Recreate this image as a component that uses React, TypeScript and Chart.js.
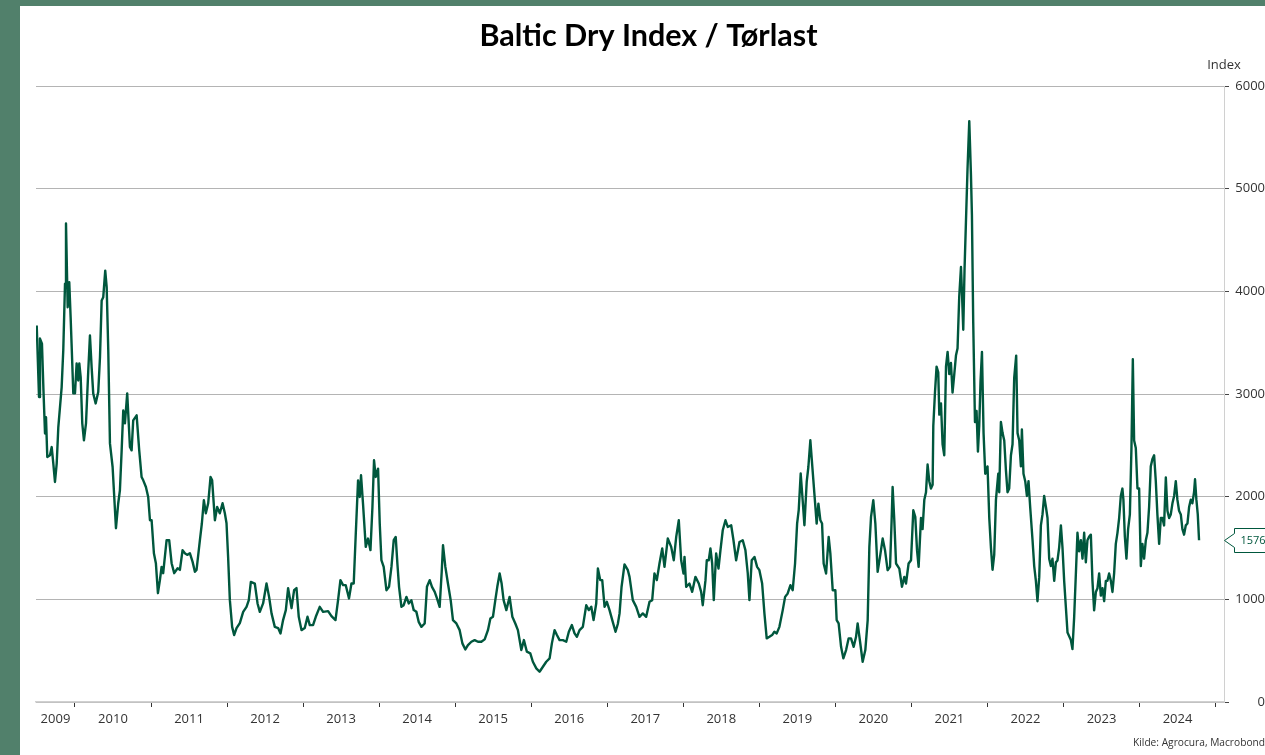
import React, { useEffect, useRef } from "react";
import { Chart, registerables } from "chart.js";

Chart.register(...registerables);

// Decimal-year positions of the readings
const dates: number[] = [
  2009.497, 2009.527, 2009.54, 2009.566, 2009.585, 2009.606, 2009.619, 2009.636, 2009.671, 2009.694,
  2009.715, 2009.737, 2009.76, 2009.781, 2009.803, 2009.825, 2009.846, 2009.869, 2009.882, 2009.904,
  2009.925, 2009.943, 2009.957, 2009.978, 2010.0, 2010.022, 2010.043, 2010.057, 2010.075, 2010.096,
  2010.118, 2010.145, 2010.175, 2010.197, 2010.219, 2010.24, 2010.272, 2010.306, 2010.329, 2010.351,
  2010.372, 2010.398, 2010.417, 2010.438, 2010.46, 2010.495, 2010.539, 2010.569, 2010.591, 2010.614,
  2010.635, 2010.657, 2010.687, 2010.723, 2010.745, 2010.766, 2010.811, 2010.845, 2010.876, 2010.898,
  2010.933, 2010.963, 2010.986, 2011.008, 2011.038, 2011.064, 2011.091, 2011.117, 2011.139, 2011.16,
  2011.205, 2011.239, 2011.271, 2011.305, 2011.35, 2011.38, 2011.415, 2011.445, 2011.476, 2011.511,
  2011.547, 2011.577, 2011.599, 2011.643, 2011.669, 2011.695, 2011.721, 2011.752, 2011.783, 2011.804,
  2011.84, 2011.87, 2011.905, 2011.941, 2011.971, 2011.993, 2012.014, 2012.037, 2012.067, 2012.093,
  2012.125, 2012.168, 2012.212, 2012.256, 2012.286, 2012.313, 2012.365, 2012.401, 2012.431, 2012.474,
  2012.519, 2012.553, 2012.585, 2012.628, 2012.672, 2012.703, 2012.737, 2012.773, 2012.803, 2012.848,
  2012.882, 2012.913, 2012.943, 2012.979, 2013.022, 2013.058, 2013.088, 2013.131, 2013.167, 2013.219,
  2013.263, 2013.329, 2013.373, 2013.426, 2013.46, 2013.491, 2013.526, 2013.561, 2013.604, 2013.636,
  2013.666, 2013.693, 2013.723, 2013.745, 2013.762, 2013.788, 2013.824, 2013.854, 2013.886, 2013.912,
  2013.933, 2013.955, 2013.986, 2014.008, 2014.03, 2014.06, 2014.096, 2014.13, 2014.162, 2014.192,
  2014.218, 2014.24, 2014.262, 2014.293, 2014.323, 2014.359, 2014.389, 2014.424, 2014.455, 2014.49,
  2014.52, 2014.556, 2014.599, 2014.629, 2014.665, 2014.695, 2014.731, 2014.761, 2014.796, 2014.823,
  2014.84, 2014.871, 2014.905, 2014.941, 2014.971, 2015.016, 2015.059, 2015.095, 2015.134, 2015.168,
  2015.213, 2015.256, 2015.3, 2015.344, 2015.388, 2015.431, 2015.463, 2015.497, 2015.528, 2015.554,
  2015.585, 2015.611, 2015.637, 2015.673, 2015.716, 2015.752, 2015.791, 2015.825, 2015.87, 2015.904,
  2015.943, 2015.988, 2016.022, 2016.067, 2016.11, 2016.154, 2016.198, 2016.242, 2016.272, 2016.307,
  2016.338, 2016.373, 2016.417, 2016.461, 2016.495, 2016.535, 2016.57, 2016.601, 2016.636, 2016.679,
  2016.724, 2016.758, 2016.79, 2016.82, 2016.855, 2016.877, 2016.908, 2016.934, 2016.965, 2016.995,
  2017.03, 2017.066, 2017.109, 2017.139, 2017.162, 2017.188, 2017.227, 2017.271, 2017.293, 2017.336,
  2017.381, 2017.424, 2017.468, 2017.512, 2017.556, 2017.591, 2017.621, 2017.652, 2017.687, 2017.723,
  2017.753, 2017.796, 2017.841, 2017.875, 2017.907, 2017.941, 2017.972, 2018.003, 2018.016, 2018.038,
  2018.081, 2018.117, 2018.16, 2018.204, 2018.235, 2018.256, 2018.292, 2018.309, 2018.335, 2018.357,
  2018.38, 2018.401, 2018.432, 2018.463, 2018.489, 2018.519, 2018.555, 2018.585, 2018.63, 2018.66,
  2018.695, 2018.739, 2018.782, 2018.817, 2018.848, 2018.87, 2018.9, 2018.936, 2018.971, 2019.001,
  2019.037, 2019.067, 2019.097, 2019.133, 2019.168, 2019.198, 2019.229, 2019.264, 2019.308, 2019.339,
  2019.373, 2019.409, 2019.439, 2019.47, 2019.497, 2019.518, 2019.544, 2019.57, 2019.593, 2019.623,
  2019.645, 2019.671, 2019.694, 2019.724, 2019.754, 2019.777, 2019.803, 2019.825, 2019.846, 2019.878,
  2019.912, 2019.934, 2019.965, 2020.0, 2020.017, 2020.043, 2020.075, 2020.105, 2020.141, 2020.175,
  2020.206, 2020.241, 2020.272, 2020.293, 2020.325, 2020.359, 2020.394, 2020.425, 2020.447, 2020.469,
  2020.499, 2020.526, 2020.556, 2020.587, 2020.622, 2020.653, 2020.687, 2020.719, 2020.74, 2020.753,
  2020.775, 2020.798, 2020.841, 2020.876, 2020.907, 2020.929, 2020.963, 2020.995, 2021.025, 2021.051,
  2021.074, 2021.095, 2021.126, 2021.147, 2021.17, 2021.192, 2021.213, 2021.235, 2021.257, 2021.279,
  2021.288, 2021.31, 2021.331, 2021.353, 2021.367, 2021.389, 2021.41, 2021.432, 2021.455, 2021.476,
  2021.498, 2021.52, 2021.541, 2021.564, 2021.586, 2021.607, 2021.629, 2021.652, 2021.665, 2021.682,
  2021.699, 2021.717, 2021.738, 2021.761, 2021.783, 2021.796, 2021.813, 2021.836, 2021.857, 2021.875,
  2021.892, 2021.909, 2021.928, 2021.949, 2021.971, 2022.001, 2022.024, 2022.046, 2022.067, 2022.089,
  2022.112, 2022.142, 2022.155, 2022.177, 2022.199, 2022.221, 2022.243, 2022.264, 2022.286, 2022.309,
  2022.33, 2022.352, 2022.378, 2022.396, 2022.418, 2022.44, 2022.453, 2022.474, 2022.497, 2022.519,
  2022.54, 2022.562, 2022.593, 2022.615, 2022.637, 2022.658, 2022.681, 2022.703, 2022.724, 2022.746,
  2022.769, 2022.79, 2022.812, 2022.834, 2022.855, 2022.878, 2022.9, 2022.921, 2022.943, 2022.966,
  2022.987, 2023.009, 2023.031, 2023.053, 2023.075, 2023.097, 2023.118, 2023.14, 2023.163, 2023.184,
  2023.206, 2023.229, 2023.25, 2023.272, 2023.294, 2023.315, 2023.338, 2023.36, 2023.381, 2023.403,
  2023.426, 2023.447, 2023.469, 2023.491, 2023.513, 2023.535, 2023.557, 2023.578, 2023.6, 2023.623,
  2023.644, 2023.666, 2023.688, 2023.71, 2023.732, 2023.754, 2023.775, 2023.788, 2023.807, 2023.828,
  2023.85, 2023.873, 2023.894, 2023.912, 2023.929, 2023.951, 2023.973, 2023.995, 2024.017, 2024.038,
  2024.06, 2024.083, 2024.104, 2024.126, 2024.148, 2024.17, 2024.192, 2024.214, 2024.235, 2024.258,
  2024.28, 2024.301, 2024.323, 2024.346, 2024.367, 2024.389, 2024.411, 2024.433, 2024.455, 2024.477,
  2024.498, 2024.52, 2024.543, 2024.564, 2024.586, 2024.608, 2024.63, 2024.652, 2024.674, 2024.695,
  2024.717, 2024.73, 2024.748, 2024.766, 2024.783,
];

// Baltic Dry Index values at those dates
const values: number[] = [
  3667, 2970, 3540, 3490, 3050, 2615, 2775, 2386, 2403, 2483,
  2325, 2143, 2325, 2678, 2872, 3067, 3424, 4075, 4661, 3845,
  4088, 3748, 3456, 3006, 3006, 3298, 3132, 3298, 3164, 2714,
  2549, 2714, 3230, 3570, 3262, 3006, 2908, 3019, 3359, 3911,
  3943, 4202, 4040, 3424, 2519, 2289, 1693, 1936, 2062, 2451,
  2840, 2714, 3006, 2483, 2451, 2743, 2792, 2451, 2192, 2159,
  2094, 1997, 1770, 1770, 1449, 1352, 1060, 1187, 1316, 1255,
  1576, 1576, 1352, 1255, 1303, 1287, 1479, 1449, 1433, 1449,
  1365, 1268, 1287, 1576, 1741, 1965, 1838, 1936, 2192, 2159,
  1770, 1900, 1838, 1936, 1838, 1741, 1413, 992, 732, 652,
  720, 769, 878, 927, 992, 1170, 1154, 960, 878, 960,
  1154, 1024, 863, 732, 720, 668, 798, 895, 1109, 914,
  1089, 1109, 830, 700, 720, 830, 749, 749, 830, 927,
  878, 885, 837, 798, 992, 1187, 1138, 1138, 1009, 1154,
  1154, 1641, 2159, 1997, 2208, 1932, 1511, 1592, 1479, 1900,
  2354, 2192, 2273, 1738, 1381, 1316, 1089, 1122, 1316, 1576,
  1608, 1349, 1122, 927, 943, 1024, 960, 992, 895, 878,
  781, 732, 765, 1122, 1187, 1122, 1073, 1009, 927, 1268,
  1527, 1316, 1154, 992, 798, 765, 700, 571, 512, 554,
  587, 603, 587, 587, 610, 700, 814, 830, 992, 1122,
  1252, 1154, 992, 895, 1024, 830, 765, 700, 506, 603,
  490, 474, 392, 328, 295, 343, 392, 425, 571, 700,
  652, 603, 603, 587, 684, 749, 668, 635, 700, 732,
  943, 895, 927, 798, 960, 1300, 1187, 1187, 927, 976,
  895, 798, 684, 760, 863, 1120, 1340, 1284, 1219, 992,
  927, 830, 863, 830, 976, 992, 1252, 1187, 1349, 1495,
  1316, 1592, 1511, 1381, 1608, 1770, 1381, 1252, 1413, 1122,
  1154, 1073, 1219, 1154, 1073, 943, 1187, 1381, 1381, 1495,
  1349, 992, 1447, 1300, 1479, 1673, 1770, 1705, 1722, 1576,
  1381, 1559, 1576, 1479, 1252, 992, 1381, 1413, 1316, 1284,
  1154, 863, 620, 635, 652, 684, 668, 732, 895, 1024,
  1057, 1138, 1089, 1349, 1738, 1868, 2225, 1965, 1722, 2143,
  2289, 2549, 2322, 2030, 1738, 1932, 1770, 1738, 1349, 1252,
  1608, 1447, 1089, 1089, 798, 765, 538, 425, 506, 620,
  620, 538, 635, 765, 587, 392, 506, 798, 1511, 1803,
  1965, 1738, 1268, 1413, 1592, 1479, 1284, 1316, 1770, 2094,
  1770, 1349, 1300, 1122, 1219, 1154, 1349, 1381, 1868, 1803,
  1479, 1316, 1792, 1684, 1971, 2043, 2313, 2151, 2079, 2115,
  2691, 3014, 3266, 3212, 2799, 2907, 2511, 2403, 3266, 3410,
  3194, 3302, 3014, 3194, 3374, 3446, 3950, 4237, 3986, 3626,
  4219, 4669, 5191, 5658, 5137, 4741, 3698, 2727, 2835, 2439,
  2691, 3122, 3410, 2619, 2223, 2295, 1792, 1504, 1288, 1432,
  1971, 2223, 2043, 2727, 2619, 2547, 2259, 2043, 2079, 2403,
  2511, 3158, 3374, 2619, 2547, 2295, 2655, 2223, 2151, 2007,
  2151, 1899, 1576, 1324, 1180, 982, 1216, 1720, 1827, 2007,
  1899, 1792, 1396, 1324, 1396, 1180, 1360, 1378, 1504, 1720,
  1504, 1180, 928, 676, 640, 604, 515, 820, 1252, 1648,
  1468, 1576, 1396, 1648, 1360, 1576, 1612, 1630, 1180, 892,
  1072, 1108, 1252, 1036, 1108, 982, 1180, 1180, 1252, 1180,
  1072, 1252, 1540, 1648, 1792, 2007, 2079, 1971, 1612, 1396,
  1684, 1827, 2475, 3338, 2547, 2475, 2079, 2079, 1324, 1540,
  1396, 1576, 1648, 1899, 2295, 2367, 2403, 2151, 1827, 1540,
  1792, 1792, 1720, 2187, 1863, 1792, 1827, 1935, 2007, 2151,
  1971, 1863, 1827, 1684, 1630, 1720, 1738, 1899, 1971, 1935,
  2043, 2169, 1971, 1827, 1576,
];

const yearLabels: string[] = [
  "2009", "2010", "2011", "2012", "2013", "2014", "2015", "2016",
  "2017", "2018", "2019", "2020", "2021", "2022", "2023", "2024",
];
const yearTicks: number[] = [
  2010, 2011, 2012, 2013, 2014, 2015, 2016, 2017, 2018, 2019, 2020, 2021, 2022, 2023, 2024, 2025,
];
const yTickValues: number[] = [0, 1000, 2000, 3000, 4000, 5000, 6000];

const titleText = "Baltic Dry Index / Tørlast";
const unitText = "Index";
const sourceText = "Kilde: Agrocura, Macrobond";

const X_MIN = 2009.4875;
const X_MAX = 2025.111;

const LINE_COLOR = "#00573d";
const TEXT_COLOR = "#333333";
const FONT = '"Open Sans", "DejaVu Sans", sans-serif';

const overlayPlugin = {
  id: "overlay",
  afterDraw(chart: any) {
    const { ctx, chartArea, scales } = chart;
    const xs = scales.x;
    const ys = scales.y;
    ctx.save();

    // Title
    ctx.fillStyle = "#000000";
    ctx.font = `bold 30.5px Lato, ${FONT}`;
    ctx.textAlign = "center";
    ctx.textBaseline = "middle";
    ctx.fillText(titleText, 628.5, 30);

    // Unit label
    ctx.fillStyle = TEXT_COLOR;
    ctx.font = `13px ${FONT}`;
    ctx.fillText(unitText, chartArea.right, 59);

    // Year labels, centred on the visible part of each year
    yearLabels.forEach((lab) => {
      const yr = Number(lab);
      const a = Math.max(yr, xs.min);
      const b = Math.min(yr + 1, xs.max);
      const cx = xs.getPixelForValue((a + b) / 2);
      ctx.fillText(lab, cx, chartArea.bottom + 17);
    });

    // Source
    ctx.font = `10.2px ${FONT}`;
    ctx.textAlign = "right";
    ctx.fillText(sourceText, chart.width, 737);

    // Last value marker
    const last = values[values.length - 1];
    const py = Math.round(ys.getPixelForValue(last)) + 0.5;
    const tipX = chartArea.right + 0.5;
    const bx = chartArea.right + 10.5;
    const top = py - 12;
    const bottom = py + 12;
    ctx.beginPath();
    ctx.moveTo(chart.width + 5, top);
    ctx.lineTo(bx, top);
    ctx.lineTo(bx, py - 7);
    ctx.lineTo(tipX, py);
    ctx.lineTo(bx, py + 7);
    ctx.lineTo(bx, bottom);
    ctx.lineTo(chart.width + 5, bottom);
    ctx.closePath();
    ctx.fillStyle = "#ffffff";
    ctx.fill();
    ctx.strokeStyle = LINE_COLOR;
    ctx.lineWidth = 1;
    ctx.stroke();
    ctx.fillStyle = LINE_COLOR;
    ctx.font = `11px ${FONT}`;
    ctx.textAlign = "left";
    ctx.textBaseline = "middle";
    ctx.fillText(String(last), bx + 6, py);

    ctx.restore();
  },
};

export default function App() {
  const canvasRef = useRef<HTMLCanvasElement | null>(null);

  useEffect(() => {
    document.body.style.margin = "0";
    const canvas = canvasRef.current;
    if (!canvas) return;
    const points = dates.map((d, i) => ({ x: d, y: values[i] }));
    const chart = new Chart(canvas, {
      type: "line",
      data: {
        datasets: [
          {
            label: "Baltic Dry Index",
            data: points,
            borderColor: LINE_COLOR,
            backgroundColor: LINE_COLOR,
            borderWidth: 2.4,
            pointRadius: 0,
            tension: 0,
            borderJoinStyle: "round",
          },
        ],
      },
      options: {
        responsive: false,
        animation: false,
        maintainAspectRatio: false,
        layout: { padding: { left: 16, top: 80, right: 0, bottom: 0 } },
        plugins: {
          legend: { display: false },
          tooltip: { enabled: false },
          title: { display: false },
        },
        scales: {
          x: {
            type: "linear",
            min: X_MIN,
            max: X_MAX,
            afterBuildTicks: (axis: any) => {
              axis.ticks = yearTicks.map((v) => ({ value: v }));
            },
            afterFit: (axis: any) => {
              axis.height = 53;
            },
            ticks: {
              callback: () => "",
              font: { size: 13, family: FONT },
            },
            grid: {
              drawOnChartArea: false,
              drawTicks: true,
              tickLength: 5,
              tickColor: "#333333",
              tickWidth: 1,
            },
            border: { display: true, color: "#d0d0d0", width: 1.5 },
          },
          y: {
            type: "linear",
            position: "right",
            min: 0,
            max: 6000,
            afterBuildTicks: (axis: any) => {
              axis.ticks = yTickValues.map((v) => ({ value: v }));
            },
            afterFit: (axis: any) => {
              axis.width = 41;
            },
            ticks: {
              color: TEXT_COLOR,
              font: { size: 13, family: FONT },
              padding: 5,
              crossAlign: "far",
              callback: (v: any) => String(v),
            },
            grid: {
              color: "#b4b4b4",
              lineWidth: 1,
              drawTicks: true,
              tickLength: 5,
              tickColor: "#444444",
            },
            border: { display: true, color: "#d0d0d0", width: 1 },
          },
        },
      },
      plugins: [overlayPlugin],
    });
    return () => chart.destroy();
  }, []);

  return (
    <div
      style={{
        position: "fixed",
        left: 0,
        top: 0,
        width: 1265,
        height: 755,
        background: "#51806b",
        overflow: "hidden",
      }}
    >
      <div
        style={{
          position: "absolute",
          left: 20,
          top: 6,
          width: 1245,
          height: 749,
          background: "#ffffff",
        }}
      >
        <canvas
          ref={canvasRef}
          width={1245}
          height={749}
          style={{ display: "block", width: 1245, height: 749 }}
        />
      </div>
    </div>
  );
}
